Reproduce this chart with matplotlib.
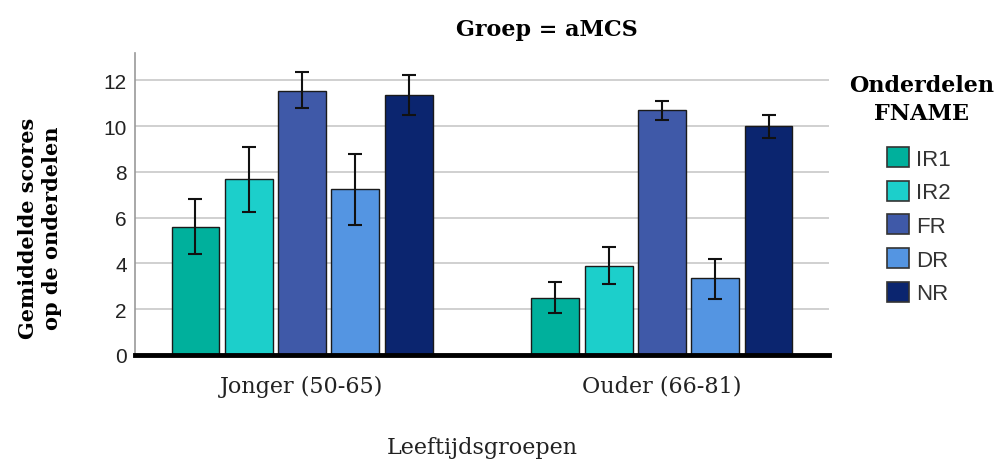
import numpy as np
import matplotlib
matplotlib.use('Agg')
from matplotlib import pyplot as plt
from matplotlib.patches import Patch

# data
groups = ['Jonger (50-65)', 'Ouder (66-81)']
parts = ['IR1', 'IR2', 'FR', 'DR', 'NR']
mean_jonger = [5.6, 7.7, 11.55, 7.25, 11.35]
mean_ouder = [2.5, 3.9, 10.7, 3.35, 10.0]
low_jonger = [4.4, 6.25, 10.8, 5.7, 10.5]
high_jonger = [6.8, 9.1, 12.35, 8.8, 12.25]
low_ouder = [1.85, 3.1, 10.25, 2.45, 9.5]
high_ouder = [3.2, 4.7, 11.1, 4.2, 10.5]

colors = ['#00B09C', '#1CCFCB', '#3F59A8', '#5495E2', '#0B256F']

W, H = 1003, 464
fig = plt.figure(figsize=(W / 100, H / 100), dpi=100)
ax = fig.add_axes([135 / W, (H - 356) / H, (829 - 135) / W, (356 - 54) / H])

x = np.arange(len(groups))
step = 0.148
width = 0.133
means = np.array([mean_jonger, mean_ouder])
lows = np.array([low_jonger, low_ouder])
highs = np.array([high_jonger, high_ouder])

for i, part in enumerate(parts):
    pos = x + (i - 2) * step
    m = means[:, i]
    yerr = [m - lows[:, i], highs[:, i] - m]
    ax.bar(pos, m, width, color=colors[i], edgecolor='#1a1a1a', linewidth=1.0, zorder=2)
    ax.errorbar(pos, m, yerr=yerr, fmt='none', ecolor='#111111', elinewidth=1.5,
                capsize=5, capthick=1.5, zorder=3)

ax.set_xlim(-0.464, 1.464)
ax.set_ylim(0, 13.2)
ax.set_yticks(range(0, 13, 2))
ax.set_xticks(x)
ax.set_xticklabels(groups, fontfamily='DejaVu Serif', fontsize=16, color='#222222')
for lab in ax.get_yticklabels():
    lab.set_fontfamily('Liberation Sans')
    lab.set_fontsize(15)
    lab.set_color('#222222')
ax.tick_params(axis='both', length=0)
ax.tick_params(axis='x', pad=14)
ax.tick_params(axis='y', pad=6)
ax.yaxis.grid(True, color='#c8c8c8', linewidth=1.2, zorder=0)
ax.set_axisbelow(True)
for s in ['top', 'right']:
    ax.spines[s].set_visible(False)
ax.spines['left'].set_color('#999999')
ax.spines['left'].set_linewidth(1.2)
ax.spines['bottom'].set_color('black')
ax.spines['bottom'].set_linewidth(3.5)
ax.spines['bottom'].set_zorder(5)

fig.text(547 / W, 1 - 30 / H, 'Groep = aMCS', ha='center', va='center',
         fontfamily='DejaVu Serif', fontweight='bold', fontsize=16)
fig.text(40 / W, 1 - 228 / H, 'Gemiddelde scores\nop de onderdelen', ha='center', va='center',
         rotation=90, fontfamily='DejaVu Serif', fontweight='bold', fontsize=15,
         linespacing=1.25)
fig.text(482 / W, 1 - 448 / H, 'Leeftijdsgroepen', ha='center', va='center',
         fontfamily='DejaVu Serif', fontsize=16, color='#222222')

# legend title as separate text, legend entries below it
fig.text(922 / W, 1 - 100 / H, 'Onderdelen\nFNAME', ha='center', va='center',
         fontfamily='DejaVu Serif', fontweight='bold', fontsize=16, linespacing=1.35)
handles = [Patch(facecolor=c, edgecolor='#333333', linewidth=1.2) for c in colors]
leg = fig.legend(handles, parts, loc='upper left', bbox_to_anchor=(887 / W, 1 - 148 / H),
                 frameon=False, borderpad=0, borderaxespad=0,
                 prop={'family': 'Liberation Sans', 'size': 16},
                 handlelength=1.0, handleheight=1.0, handletextpad=0.3, labelspacing=0.5)
for t in leg.get_texts():
    t.set_color('#333333')

fig.savefig('out.png', dpi=100)
